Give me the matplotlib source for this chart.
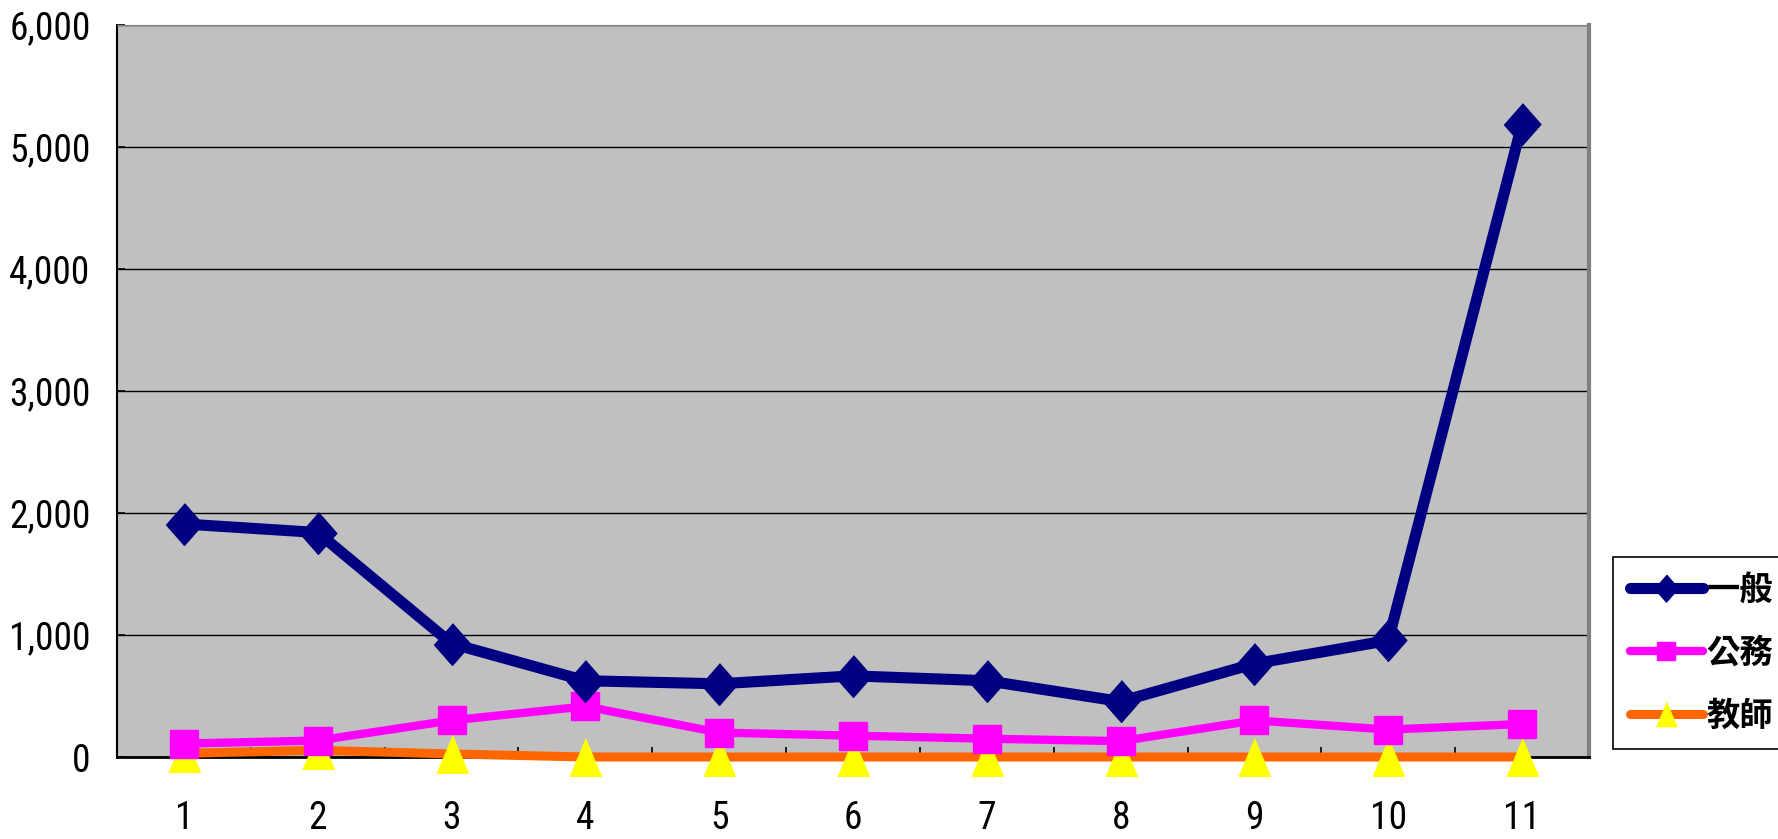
import matplotlib.pyplot as plt
import matplotlib.ticker as ticker

# data
months = ['1', '2', '3', '4', '5', '6', '7', '8', '9', '10', '11']
ippan = [1910, 1840, 930, 625, 600, 665, 625, 455, 765, 955, 5190]
koumu = [110, 135, 300, 415, 200, 175, 150, 130, 300, 225, 270]
kyoushi = [30, 55, 25, 0, 0, 0, 0, 0, 0, 0, 0]

num_font = ['Roboto Condensed', 'DejaVu Sans']
cjk_font = ['Noto Sans CJK TC', 'DejaVu Sans']

fig = plt.figure(figsize=(17.78, 8.39), dpi=100)
ax = fig.add_axes([117 / 1778, 1 - 757 / 839, (1589 - 117) / 1778, (757 - 25) / 839])
ax.set_facecolor('#C0C0C0')

x = list(range(1, len(months) + 1))
tri = [(-0.42, -0.5), (0.42, -0.5), (0.0, 0.5)]
dia = [(0, 0.5), (0.44, 0), (0, -0.5), (-0.44, 0)]

ax.plot(x, kyoushi, color='#FF6600', lw=6.5, marker=tri, ms=27, mfc='#FFFF00', mec='#FFFF00',
        label='教師', clip_on=False, zorder=3, solid_capstyle='round')
ax.plot(x, koumu, color='#FF00FF', lw=6, marker='s', ms=20, mfc='#FF00FF', mec='#FF00FF',
        label='公務', clip_on=False, zorder=4, solid_capstyle='round')
ax.plot(x, ippan, color='#000080', lw=8, marker=dia, ms=30, mfc='#000080', mec='#000080',
        label='一般', clip_on=False, zorder=5, solid_capstyle='round')

ax.set_xlim(0.5, 11.5)
ax.set_ylim(0, 6000)
ax.yaxis.set_major_locator(ticker.MultipleLocator(1000))
ax.yaxis.set_major_formatter(ticker.FuncFormatter(lambda v, p: f'{int(v):,}'))
ax.grid(axis='y', color='black', lw=1)
ax.set_axisbelow(True)

ax.set_xticks(x)
ax.set_xticklabels(months)
ax.set_xticks([i + 0.5 for i in range(1, 11)], minor=True)
ax.tick_params(axis='x', which='major', length=0, pad=31)
ax.tick_params(axis='x', which='minor', direction='in', length=7, width=1.2)
ax.tick_params(axis='y', direction='in', length=6, width=1.2, pad=19)

for lab in ax.get_xticklabels() + ax.get_yticklabels():
    lab.set_family(num_font)
    lab.set_stretch('condensed')
    lab.set_fontsize(27)

ax.spines['left'].set_color('black')
ax.spines['bottom'].set_color('black')
ax.spines['left'].set_linewidth(1.5)
ax.spines['bottom'].set_linewidth(2)
ax.spines['top'].set_color('#808080')
ax.spines['right'].set_color('#808080')
ax.spines['right'].set_linewidth(3)

handles, labels = ax.get_legend_handles_labels()
leg = fig.legend(handles[::-1], labels[::-1], loc='upper left',
                 bbox_to_anchor=(1613 / 1778, 1 - 557 / 839),
                 prop={'family': cjk_font, 'weight': 'bold', 'size': 24},
                 frameon=True, fancybox=False, edgecolor='black', framealpha=1,
                 handlelength=2.2, handletextpad=0.1, borderpad=0.5,
                 labelspacing=0.9, borderaxespad=0)
leg.get_frame().set_linewidth(1.2)
for h in leg.legend_handles:
    h.set_markersize(h.get_markersize() * 0.65)

fig.savefig('out.png', dpi=100)
